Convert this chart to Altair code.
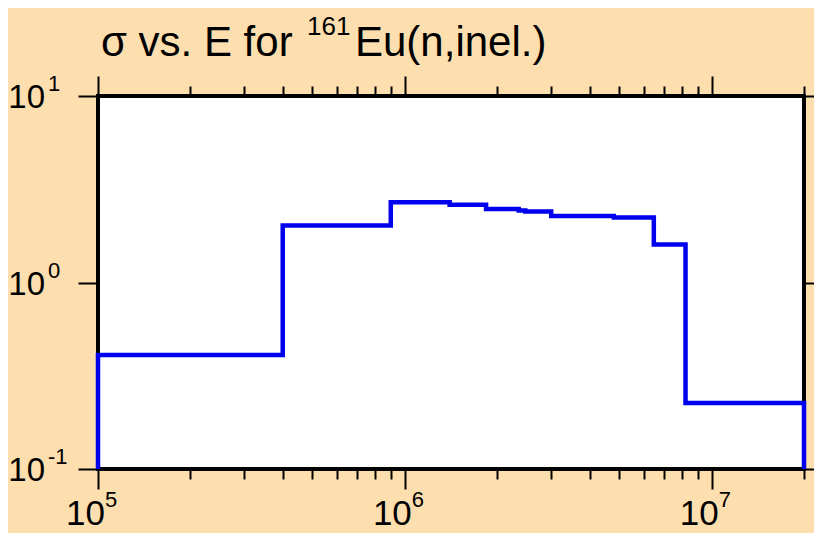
import altair as alt
import pandas as pd

# ---- data ----
energy = [1e5, 1e5, 4e5, 9e5, 1.40e6, 1.84e6, 2.35e6, 2.47e6, 3.0e6, 4.8e6, 6.48e6, 8.22e6, 2e7, 2e7]
sigma = [0.1, 0.409, 2.02, 2.69, 2.61, 2.48, 2.43, 2.40, 2.27, 2.23, 1.60, 0.226, 0.226, 0.1]

x_ticks = [1e5, 2e5, 3e5, 4e5, 5e5, 6e5, 7e5, 8e5, 9e5,
           1e6, 2e6, 3e6, 4e6, 5e6, 6e6, 7e6, 8e6, 9e6,
           1e7, 2e7]
x_label_vals = [1e5, 1e6, 1e7]
x_label_exps = ["5", "6", "7"]
y_label_vals = [0.1, 1, 10]
y_label_exps = ["-1", "0", "1"]

title_main = "σ vs. E for"
title_sup = "161"
title_rest = "Eu(n,inel.)"

W, H = 706, 373
FONT = "Liberation Sans"
BG = "#FDDEAE"

df = pd.DataFrame({"E": energy, "sigma": sigma, "i": list(range(len(energy)))})
xl = pd.DataFrame({"x": x_label_vals, "base": ["10"] * 3, "exp": x_label_exps})
yl = pd.DataFrame({"y": y_label_vals, "base": ["10"] * 3, "exp": y_label_exps})

xscale = alt.Scale(type="log", domain=[1e5, 2e7], nice=False)
yscale = alt.Scale(type="log", domain=[0.1, 10], nice=False)

major_test = "abs(log(datum.value)/LN10 - round(log(datum.value)/LN10)) < 0.000001"
tick_size = {"condition": {"test": major_test, "value": 20}, "value": 10}

def xaxis(orient):
    return alt.Axis(orient=orient, values=x_ticks, tickSize=tick_size, tickWidth=2,
                    tickColor="black", labels=False, domain=False, grid=False, title=None)

def yaxis(orient):
    return alt.Axis(orient=orient, values=y_label_vals, tickSize=20, tickWidth=2,
                    tickColor="black", labels=False, domain=False, grid=False, title=None)

line = alt.Chart(df).mark_line(interpolate="step-after", color="#0000EE", strokeWidth=4.5).encode(
    x=alt.X("E:Q", scale=xscale, axis=xaxis("bottom")),
    y=alt.Y("sigma:Q", scale=yscale, axis=yaxis("left")),
    order="i:Q",
)
ghost = alt.Chart(df).mark_line(opacity=0).encode(
    x=alt.X("E:Q", scale=xscale, axis=xaxis("top")),
    y=alt.Y("sigma:Q", scale=yscale, axis=yaxis("right")),
    order="i:Q",
)

xb = alt.Chart(xl).mark_text(align="right", baseline="alphabetic", font=FONT, fontSize=35,
                             color="black", dx=7).encode(
    x=alt.X("x:Q", scale=xscale, axis=None), y=alt.value(H + 56), text="base:N")
xe = alt.Chart(xl).mark_text(align="left", baseline="alphabetic", font=FONT, fontSize=22,
                             color="black", dx=7).encode(
    x=alt.X("x:Q", scale=xscale, axis=None), y=alt.value(H + 38), text="exp:N")
yb = alt.Chart(yl).mark_text(align="right", baseline="alphabetic", font=FONT, fontSize=33,
                             color="black", dy=12).encode(
    y=alt.Y("y:Q", scale=yscale, axis=None), x=alt.value(-53), text="base:N")
ye = alt.Chart(yl).mark_text(align="left", baseline="alphabetic", font=FONT, fontSize=22,
                             color="black", dy=-5).encode(
    y=alt.Y("y:Q", scale=yscale, axis=None), x=alt.value(-50), text="exp:N")

t1 = alt.Chart(pd.DataFrame({"t": [title_main]})).mark_text(
    align="left", baseline="alphabetic", font=FONT, fontSize=42, color="black").encode(
    x=alt.value(3), y=alt.value(-40), text="t:N")
t2 = alt.Chart(pd.DataFrame({"t": [title_sup]})).mark_text(
    align="left", baseline="alphabetic", font=FONT, fontSize=26, color="black").encode(
    x=alt.value(209), y=alt.value(-61), text="t:N")
t3 = alt.Chart(pd.DataFrame({"t": [title_rest]})).mark_text(
    align="left", baseline="alphabetic", font=FONT, fontSize=42, color="black").encode(
    x=alt.value(257), y=alt.value(-40), text="t:N")

chart = alt.layer(line, ghost, xb, xe, yb, ye, t1, t2, t3).resolve_axis(
    x="independent", y="independent"
).properties(
    width=W, height=H,
    autosize=alt.AutoSizeParams(type="none"),
    padding={"left": 90, "top": 88, "right": 10, "bottom": 64},
    background=BG,
).configure_view(
    fill="white", stroke="black", strokeWidth=4
)

chart.save("out.html", embed_options={"renderer": "svg", "actions": False})
